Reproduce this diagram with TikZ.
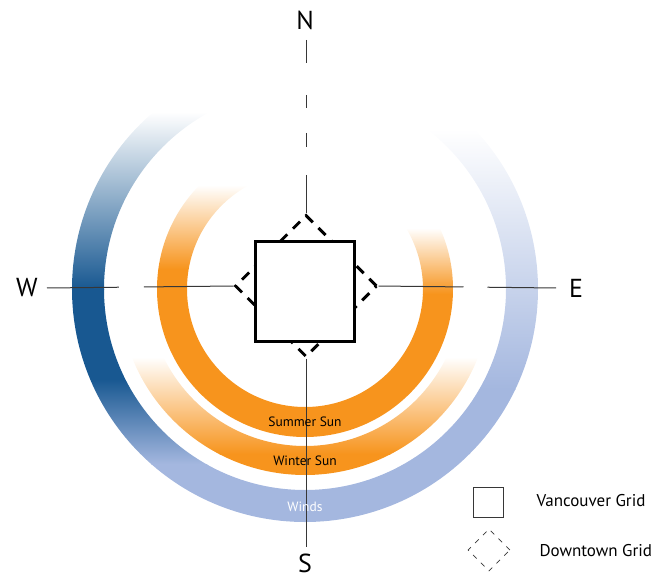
\documentclass[tikz,border=0pt]{standalone}
\usepackage{fontspec}
\setmainfont{PT Sans}
\usetikzlibrary{shapes.geometric}

\definecolor{winddark}{RGB}{24,88,145}
\definecolor{windlight}{RGB}{164,183,223}
\definecolor{sunorange}{RGB}{247,148,29}
\definecolor{axisgrey}{RGB}{55,55,55}

\tikzset{
  axisline/.style={axisgrey, line width=1pt},
  compass/.style={font=\fontsize{26}{26}\selectfont},
  ringlabel/.style={font=\fontsize{13.5}{14}\selectfont},
  legendtext/.style={font=\fontsize{17}{18}\selectfont, anchor=west},
  citygrid/.style={draw, line width=3pt, fill=white, minimum size=99pt, inner sep=0pt},
  downtown/.style={diamond, draw, line width=3pt, dash pattern=on 10pt off 8pt,
    minimum width=142pt, minimum height=142pt, inner sep=0pt, aspect=1},
}

\begin{document}
\begin{tikzpicture}[x=1pt, y=1pt]
        \useasboundingbox (-305,-289) rectangle (358,289);

        % winds
        \begin{scope}[even odd rule]
            \clip (0,0) circle[radius=233pt] (0,0) circle[radius=201pt];
            \begin{scope}
                \clip (-240,-240) rectangle (0,240);
                \shade[top color=white, middle color=winddark!55!windlight, bottom color=winddark] (-240,177) rectangle (0,0);
                \fill[winddark] (-240,0) rectangle (0,-90);
                \shade[top color=winddark, bottom color=windlight] (-240,-90) rectangle (0,-175);
                \fill[windlight] (-240,-175) rectangle (0,-240);
            \end{scope}
            \begin{scope}
                \clip (0,-240) rectangle (240,240);
                \shade[top color=white, bottom color=windlight] (0,160) rectangle (240,-100);
                \fill[windlight] (0,-100) rectangle (240,-240);
            \end{scope}
        \end{scope}

        % summer sun
        \begin{scope}[even odd rule]
            \clip (0,0) circle[radius=148pt] (0,0) circle[radius=118pt];
            \shade[top color=white, bottom color=sunorange] (-150,104) rectangle (0,20);
            \fill[sunorange] (-150,20) rectangle (0,-150);
            \shade[top color=white, bottom color=sunorange] (0,61) rectangle (150,-5);
            \fill[sunorange] (0,-5) rectangle (150,-150);
        \end{scope}

        % winter sun
        \begin{scope}[even odd rule]
            \clip (0,0) circle[radius=186pt] (0,0) circle[radius=157pt];
            \shade[top color=white, bottom color=sunorange] (-190,-68) rectangle (190,-165);
            \fill[sunorange] (-190,-165) rectangle (190,-190);
        \end{scope}

        \node[downtown] (dt) at (1,3) {};

        \coordinate (nend) at (1,249);
        \coordinate (send) at (1,-258);
        \coordinate (wend) at (-258,1);
        \coordinate (eend) at (251,1);

        \draw[axisline, dash pattern=on 23pt off 32pt on 13pt off 25pt on 14pt off 28pt on 60pt] (nend) -- (dt.north);
        \draw[axisline] (dt.south) -- (send);
        \draw[axisline, dash pattern=on 72pt off 25pt on 100pt] (wend) -- (dt.west);
        \draw[axisline, dash pattern=on 85pt off 24pt on 100pt] (dt.east) -- (eend);

        \node[citygrid] (grid) at (0,-2.5) {};

        \node[compass] (N) at (0,269) {N};
        \node[compass] (S) at (0,-274) {S};
        \node[compass] (W) at (-278,1) {W};
        \node[compass] (E) at (271,1) {E};

        \node[ringlabel] (summer) at (0,-133) {Summer Sun};
        \node[ringlabel] (winter) at (0,-172) {Winter Sun};
        \node[ringlabel, text=white] (winds) at (0,-218) {Winds};

        % legend
        \node[draw=axisgrey, line width=0.8pt, minimum size=30pt, inner sep=0pt] (vkey) at (183,-213) {};
        \node[legendtext] (vlabel) at (228,-212) {Vancouver Grid};
        \node[diamond, draw=axisgrey, line width=0.8pt, dash pattern=on 5pt off 6pt,
            minimum width=42pt, minimum height=42pt, inner sep=0pt, aspect=1] (dkey) at (184,-261) {};
        \node[legendtext] (dlabel) at (231,-262) {Downtown Grid};

    \end{tikzpicture}
\end{document}
